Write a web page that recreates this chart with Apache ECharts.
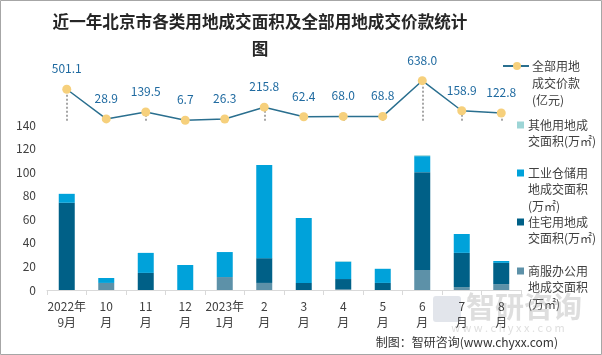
<!DOCTYPE html>
<html>
<head>
<meta charset="utf-8">
<script src="https://cdn.jsdelivr.net/npm/echarts@6/dist/echarts.min.js"></script>
<style>
html,body{margin:0;padding:0;background:#fff;}
#main{width:602px;height:355px;}
</style>
</head>
<body>
<div id="main"></div>
<script>
const categories = ['2022年\n9月','10\n月','11\n月','12\n月','2023年\n1月','2\n月','3\n月','4\n月','5\n月','6\n月','7\n月','8\n月'];
const priceTotal = [501.1, 28.9, 139.5, 6.7, 26.3, 215.8, 62.4, 68.0, 68.8, 638.0, 158.9, 122.8];
const areaCommercial = [0, 6, 0, 0, 11, 6, 0, 0.8, 0, 17, 2.5, 5];
const areaResidential = [74, 0, 14.5, 0, 0, 21, 6, 8.5, 6, 83, 29, 18];
const areaIndustrial = [7.6, 4.2, 17, 21.2, 21.2, 79, 55, 14.7, 12, 13.6, 16, 1.6];
const areaOther = [0, 0, 0, 0, 0, 0, 0, 0.5, 0, 0.8, 0, 0];
const yTicks = [0, 20, 40, 60, 80, 100, 120, 140];

const FONT = '"Noto Sans CJK SC", "Noto Sans", sans-serif';
const C_LINE = '#2a6f8f', C_MARK = '#f6d07c', C_OTHER = '#9dd5d6', C_IND = '#00a2da', C_RES = '#006087', C_COM = '#5d91a8';

const chart = echarts.init(document.getElementById('main'), null, {renderer: 'canvas'});

function legendItem(y, text, color, tx) {
  return [
    {type: 'rect', shape: {x: 517, y: y - 3.5, width: 7, height: 7}, style: {fill: color}},
    {type: 'text', style: {x: tx, y: y - 8.25, text: text, font: '12px ' + FONT, lineHeight: 16.5, fill: '#404040', verticalAlign: 'top'}}
  ];
}

const graphics = [
  {type: 'rect', shape: {x: 0.5, y: 0.5, width: 601, height: 354}, style: {fill: null, stroke: '#a6a6a6', lineWidth: 1}, silent: true},
  {type: 'text', style: {x: 260, y: 8, text: '近一年北京市各类用地成交面积及全部用地成交价款统计\n图', align: 'center', verticalAlign: 'top', font: 'bold 16.6px ' + FONT, lineHeight: 27, fill: '#262626'}},
  {type: 'line', shape: {x1: 503, y1: 66, x2: 529, y2: 66}, style: {stroke: C_LINE, lineWidth: 2}},
  {type: 'circle', shape: {cx: 517, cy: 66, r: 4}, style: {fill: C_MARK}},
  {type: 'text', style: {x: 532, y: 57.5, text: '全部用地\n成交价款\n(亿元)', font: '12px ' + FONT, lineHeight: 17, fill: '#404040', verticalAlign: 'top'}},
  ...legendItem(125, '其他用地成\n交面积(万㎡)', C_OTHER, 528),
  ...legendItem(173, '工业仓储用\n地成交面积\n(万㎡)', C_IND, 528),
  ...legendItem(222, '住宅用地成\n交面积(万㎡)', C_RES, 528),
  ...legendItem(271, '商服办公用\n地成交面积\n(万㎡)', C_COM, 528),
  {type: 'text', style: {x: 466, y: 292, text: '智研咨询', font: 'bold 29px ' + FONT, fill: 'rgba(160,160,160,0.35)', verticalAlign: 'top'}, silent: true},
  {type: 'rect', shape: {x: 433, y: 296, width: 28, height: 26, r: 3}, style: {fill: 'rgba(160,170,190,0.3)'}, silent: true},
  {type: 'text', style: {x: 508, y: 328, text: 'w w w . c h y x x . c o m', font: '11px ' + FONT, fill: 'rgba(160,160,160,0.35)', align: 'center', verticalAlign: 'middle'}, silent: true},
  {type: 'text', style: {x: 558, y: 342, text: '制图：智研咨询(www.chyxx.com)', font: '12px ' + FONT, fill: '#333', align: 'right', verticalAlign: 'middle'}}
];

const dropLines = priceTotal.map((v, i) => [{coord: [i, 0]}, {coord: [i, v]}]);

const option = {
  animation: false,
  textStyle: {fontFamily: FONT},
  legend: {show: false},
  grid: [
    {left: 47, right: 81, top: 125, bottom: 65},
    {left: 47, right: 81, top: 76.8, height: 43.9}
  ],
  xAxis: [
    {type: 'category', gridIndex: 0, data: categories,
     axisLine: {lineStyle: {color: '#d9d9d9'}},
     axisTick: {show: true, lineStyle: {color: '#d9d9d9'}, length: 5},
     axisLabel: {color: '#404040', fontSize: 12, lineHeight: 16, margin: 8, interval: 0}},
    {type: 'category', gridIndex: 1, data: categories, show: false}
  ],
  yAxis: [
    {type: 'value', gridIndex: 0, min: yTicks[0], max: yTicks[yTicks.length - 1], interval: 20,
     axisLine: {show: false}, axisTick: {show: false}, splitLine: {show: false},
     axisLabel: {color: '#404040', fontSize: 12, margin: 11}},
    {type: 'value', gridIndex: 1, min: 0, max: 700, show: false, splitLine: {show: false}}
  ],
  series: [
    {name: '商服办公用地成交面积(万㎡)', type: 'bar', stack: 'a', barWidth: 16, data: areaCommercial, itemStyle: {color: C_COM}},
    {name: '住宅用地成交面积(万㎡)', type: 'bar', stack: 'a', barWidth: 16, data: areaResidential, itemStyle: {color: C_RES}},
    {name: '工业仓储用地成交面积(万㎡)', type: 'bar', stack: 'a', barWidth: 16, data: areaIndustrial, itemStyle: {color: C_IND}},
    {name: '其他用地成交面积(万㎡)', type: 'bar', stack: 'a', barWidth: 16, data: areaOther, itemStyle: {color: C_OTHER}},
    {name: '全部用地成交价款(亿元)', type: 'line', xAxisIndex: 1, yAxisIndex: 1, data: priceTotal,
     symbol: 'circle', symbolSize: 9, itemStyle: {color: C_MARK},
     lineStyle: {color: C_LINE, width: 1.5},
     label: {show: true, position: 'top', distance: 10, color: '#1f6aa0', fontSize: 12,
             formatter: p => p.value.toFixed(1)},
     markLine: {silent: true, symbol: 'none', label: {show: false},
                lineStyle: {color: '#a6a6a6', type: [2, 2], width: 2},
                data: dropLines},
     z: 5}
  ],
  graphic: graphics
};
chart.setOption(option);
</script>
</body>
</html>
